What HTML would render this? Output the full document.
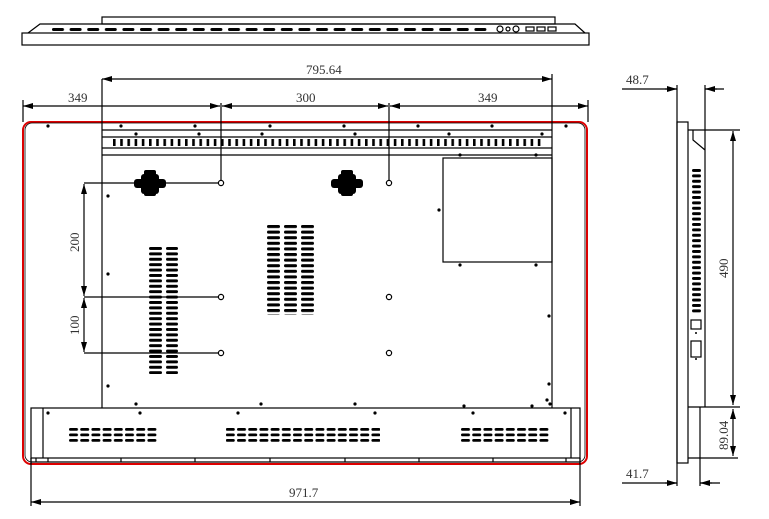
<!DOCTYPE html>
<html><head><meta charset="utf-8"><style>
html,body{margin:0;padding:0;background:#fff;}
svg{display:block}
text{font-family:"Liberation Serif",serif;font-size:13px;fill:#333}
</style></head><body>
<svg width="769" height="519" viewBox="0 0 769 519" xmlns="http://www.w3.org/2000/svg">
<defs>
<pattern id="topdash" x="52" y="0" width="17.6" height="60" patternUnits="userSpaceOnUse"><rect x="0" y="28" width="12" height="3" rx="1.5" fill="#000"/></pattern>
<pattern id="tick" x="113" y="0" width="7.2" height="200" patternUnits="userSpaceOnUse"><rect x="0" y="139" width="2.6" height="7" fill="#000"/></pattern>
<pattern id="lvent" x="0" y="247" width="200" height="5.4" patternUnits="userSpaceOnUse"><rect x="149" y="0" width="13" height="3" rx="1.5" fill="#000"/><rect x="166" y="0" width="12" height="3" rx="1.5" fill="#000"/></pattern>
<pattern id="mvent" x="0" y="225" width="400" height="5.6" patternUnits="userSpaceOnUse"><rect x="267" y="0" width="13" height="3" rx="1.5" fill="#000"/><rect x="284" y="0" width="13" height="3" rx="1.5" fill="#000"/><rect x="301" y="0" width="13" height="3" rx="1.5" fill="#000"/></pattern>
<pattern id="bvent" x="69" y="428" width="11.2" height="5.5" patternUnits="userSpaceOnUse"><rect x="0" y="0" width="9" height="2.8" rx="1.4" fill="#000"/></pattern>
<pattern id="svent" x="0" y="169" width="800" height="5.4" patternUnits="userSpaceOnUse"><rect x="692" y="0" width="9" height="3" rx="1.5" fill="#000"/></pattern>
<marker id="ar" viewBox="0 0 10 6" refX="10" refY="3" markerWidth="10" markerHeight="6" orient="auto-start-reverse" markerUnits="userSpaceOnUse"><path d="M0,0 L10,3 L0,6 z" fill="#000"/></marker>
</defs>
<g fill="none" stroke="#000" stroke-width="1.2">
<rect x="102" y="17" width="453" height="7"/>
<path d="M28,33 L40,24 L575,24 L585,33"/>
<rect x="22" y="33" width="567" height="12"/>
<rect x="52" y="27" width="440" height="4" fill="url(#topdash)" stroke="none"/>
<circle cx="500" cy="29" r="3"/><circle cx="508" cy="29" r="2"/><circle cx="516" cy="29" r="3"/>
<rect x="526" y="27" width="8" height="4"/><rect x="537" y="27" width="8" height="4"/><rect x="548" y="27" width="8" height="4"/>

<rect x="23" y="122" width="564" height="342" rx="8" stroke="#d00" stroke-width="2"/>
<rect x="25" y="123" width="560" height="339" rx="7" stroke-width="0.8"/>
<path d="M102,79 V408 M552,74 V408 M102,130 H552 M102,137 H552 M102,148 H552 M102,155 H552"/>
<rect x="113" y="139" width="432" height="8" fill="url(#tick)" stroke="none"/>
<rect x="443" y="158" width="109" height="104"/>
<rect x="31" y="408" width="549" height="50"/>
<path d="M43,408 V458 M571,408 V458 M31,458 V464 M580,458 V464 M31,462 H580"/>
<path d="M36,458V462 M48,458V462 M121,458V462 M195,458V462 M270,458V462 M345,458V462 M419,458V462 M493,458V462 M566,458V462"/>
<rect x="69" y="428" width="88" height="14" fill="url(#bvent)" stroke="none"/>
<rect x="226" y="428" width="154" height="14" fill="url(#bvent)" stroke="none"/>
<rect x="461" y="428" width="88" height="14" fill="url(#bvent)" stroke="none"/>
<rect x="149" y="247" width="30" height="127" fill="url(#lvent)" stroke="none"/>
<rect x="267" y="225" width="48" height="90" fill="url(#mvent)" stroke="none"/>
<g fill="#000" stroke="none">
<rect x="141" y="174" width="18" height="20" rx="3"/><rect x="134" y="179" width="32" height="9" rx="3"/><rect x="144" y="170" width="12" height="26" rx="2"/>
<rect x="338" y="174" width="18" height="20" rx="3"/><rect x="331" y="179" width="32" height="9" rx="3"/><rect x="341" y="170" width="12" height="26" rx="2"/>
</g>
<path d="M221,103 V180 M389,103 V180 M84,183 H218 M84,297 H218 M84,353 H218"/>
<circle cx="221" cy="183" r="2.6"/><circle cx="389" cy="183" r="2.6"/>
<circle cx="221" cy="297" r="2.6"/><circle cx="389" cy="297" r="2.6"/>
<circle cx="221" cy="353" r="2.6"/><circle cx="389" cy="353" r="2.6"/>
<path d="M84,184 V296" marker-start="url(#ar)" marker-end="url(#ar)"/>
<path d="M84,298 V352" marker-start="url(#ar)" marker-end="url(#ar)"/>
<path d="M102,79 H552" marker-start="url(#ar)" marker-end="url(#ar)"/>
<path d="M23,106 H220" marker-start="url(#ar)" marker-end="url(#ar)"/>
<path d="M222,106 H388" marker-start="url(#ar)" marker-end="url(#ar)"/>
<path d="M390,106 H588" marker-start="url(#ar)" marker-end="url(#ar)"/>
<path d="M23,100 V122 M588,100 V122 M31,458 V506 M580,458 V506"/>
<path d="M31,502 H580" marker-start="url(#ar)" marker-end="url(#ar)"/>

<path d="M677,85 V486 M705,85 V130"/>
<rect x="677" y="122" width="11" height="341"/>
<path d="M688,130 H705 V407 M693,130 V140 L705,150 M688,407 H740 M700,407 V486 M688,458 H738 M705,130 H740"/>
<path d="M622,89 H677 M705,89 H724 M622,483 H677 M700,483 H720"/>
<path d="M665,89 H677" marker-end="url(#ar)"/><path d="M717,89 H705" marker-end="url(#ar)"/>
<path d="M665,483 H677" marker-end="url(#ar)"/><path d="M712,483 H700" marker-end="url(#ar)"/>
<path d="M733,131 V405" marker-start="url(#ar)" marker-end="url(#ar)"/>
<path d="M733,409 V456" marker-start="url(#ar)" marker-end="url(#ar)"/>
<rect x="692" y="169" width="9" height="144" fill="url(#svent)" stroke="none"/>
<rect x="691" y="320" width="10" height="9"/>
<rect x="691" y="341" width="10" height="16"/>
</g>
<g fill="#000">
<circle cx="121" cy="126" r="1.6"/><circle cx="195" cy="126" r="1.6"/><circle cx="270" cy="126" r="1.6"/><circle cx="344" cy="126" r="1.6"/><circle cx="418" cy="126" r="1.6"/><circle cx="492" cy="126" r="1.6"/><circle cx="566" cy="126" r="1.6"/><circle cx="48" cy="126" r="1.6"/>
<circle cx="136" cy="134" r="1.6"/><circle cx="199" cy="134" r="1.6"/><circle cx="262" cy="134" r="1.6"/><circle cx="355" cy="134" r="1.6"/><circle cx="449" cy="134" r="1.6"/><circle cx="542" cy="134" r="1.6"/>
<circle cx="460" cy="155" r="1.6"/><circle cx="536" cy="155" r="1.6"/><circle cx="439" cy="210" r="1.6"/><circle cx="460" cy="265" r="1.6"/><circle cx="536" cy="265" r="1.6"/>
<circle cx="108" cy="196" r="1.6"/><circle cx="108" cy="274" r="1.6"/><circle cx="108" cy="386" r="1.6"/>
<circle cx="549" cy="316" r="1.6"/><circle cx="549" cy="384" r="1.6"/><circle cx="547" cy="400" r="1.6"/>
<circle cx="136" cy="404" r="1.6"/><circle cx="261" cy="404" r="1.6"/><circle cx="355" cy="404" r="1.6"/><circle cx="464" cy="406" r="1.6"/><circle cx="532" cy="406" r="1.6"/><circle cx="550" cy="404" r="1.6"/>
<circle cx="48" cy="413" r="1.6"/><circle cx="140" cy="413" r="1.6"/><circle cx="238" cy="413" r="1.6"/><circle cx="375" cy="413" r="1.6"/><circle cx="473" cy="413" r="1.6"/><circle cx="565" cy="413" r="1.6"/>
<circle cx="696" cy="333" r="1"/><circle cx="696" cy="359" r="1"/>
</g>
<text x="306" y="74">795.64</text>
<text x="68" y="102">349</text>
<text x="296" y="102">300</text>
<text x="478" y="102">349</text>
<text x="289" y="497">971.7</text>
<text transform="translate(79,252) rotate(-90)">200</text>
<text transform="translate(79,335) rotate(-90)">100</text>
<text x="626" y="84">48.7</text>
<text x="626" y="478">41.7</text>
<text transform="translate(728,278) rotate(-90)">490</text>
<text transform="translate(728,450) rotate(-90)">89.04</text>
</svg>
</body></html>
